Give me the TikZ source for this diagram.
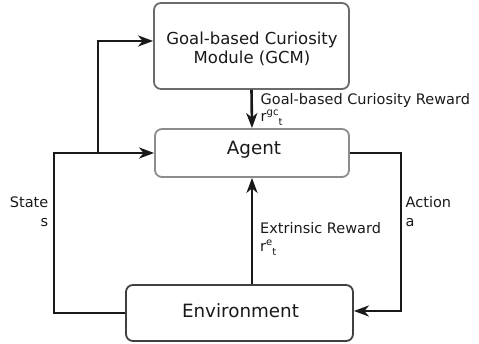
\documentclass[tikz,border=0pt]{standalone}
\usepackage{fontspec}
\setmainfont{DejaVu Sans}
\usetikzlibrary{arrows.meta}
\begin{document}
\begin{tikzpicture}[x=1pt,y=-1pt,
  box/.style={draw, rounded corners=7pt, line width=1.8pt, inner sep=0pt},
  conn/.style={line width=2.6pt, black!90},
  arr/.style={conn, -{Stealth[length=15pt,width=11pt,inset=4.5pt]}},
  bigtxt/.style={font=\fontsize{18.3}{20}\selectfont, inner sep=0pt, anchor=base, text=black!90},
  midtxt/.style={font=\fontsize{16.5}{19}\selectfont, inner sep=0pt, anchor=base, text=black!90},
  lbl/.style={font=\fontsize{14.5}{17}\selectfont, inner sep=0pt, text=black!90}]
\useasboundingbox (0,0) rectangle (479,344);
% boxes
\node[box, draw=black!58, minimum width=195pt, minimum height=86pt] (gcm) at (251.5,46) {};
\node[box, draw=black!45, minimum width=194pt, minimum height=48pt] (agent) at (252,153) {};
\node[box, draw=black!75, minimum width=227pt, minimum height=56pt] (env) at (239.5,313) {};
% box texts
\node[midtxt] (gcmtxt1) at (252,45) {Goal-based Curiosity};
\node[midtxt] (gcmtxt2) at (252,64) {Module (GCM)};
\node[bigtxt] (agenttxt) at (254,155) {Agent};
\node[bigtxt] (envtxt) at (240.5,318) {Environment};
% connectors
\coordinate (br) at (98,153);
\draw[arr] (env.west) -- ++(-71,0) |- (agent.west);
\draw[arr] (br) |- ([yshift=5pt]gcm.west);
\draw[arr] (agent.east) -- ++(51,0) |- ([yshift=2pt]env.east);
\draw[arr] (gcm.south) -- (agent.north);
\draw[arr] (agent.south |- env.north) -- (agent.south);
% labels
\node[lbl, anchor=base west] (gcr) at (260.5,104.3) {Goal-based Curiosity Reward};
\node[lbl, anchor=base west] (rgc) at (260.5,122) {r\raisebox{6pt}{\fontsize{10}{10}\selectfont gc}\raisebox{-3.5pt}{\fontsize{10}{10}\selectfont t}};
\node[lbl, anchor=base east] (state) at (48.5,208) {State};
\node[lbl, anchor=base east] (stxt) at (48.5,226.3) {s};
\node[lbl, anchor=base west] (action) at (405.5,208) {Action};
\node[lbl, anchor=base west] (atxt) at (405.5,226.3) {a};
\node[lbl, anchor=base west] (ext) at (260,233.7) {Extrinsic Reward};
\node[lbl, anchor=base west] (ret) at (260,252) {r\raisebox{6pt}{\fontsize{10}{10}\selectfont e}\raisebox{-3.5pt}{\fontsize{10}{10}\selectfont t}};
\end{tikzpicture}
\end{document}
